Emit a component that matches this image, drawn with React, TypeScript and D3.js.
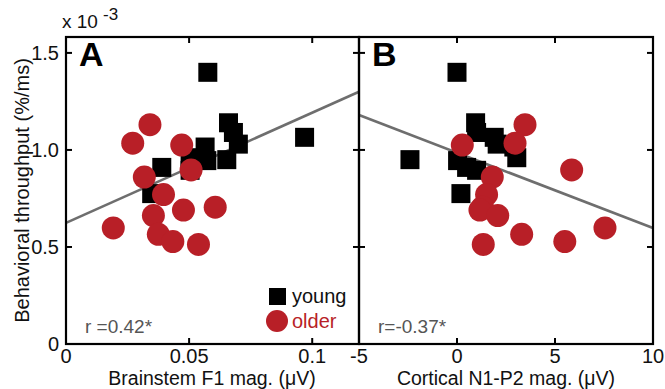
import * as d3 from 'd3'

// behavioral throughput (x 10^-3 %/ms), shared by both panels
const youngThroughput = [1.4, 1.14, 1.09, 1.065, 1.03, 1.015, 0.96, 0.95, 0.945, 0.91, 0.895, 0.775]
const youngF1 = [0.0576, 0.066, 0.068, 0.0969, 0.07, 0.0565, 0.0504, 0.0653, 0.0572, 0.0389, 0.0504, 0.0348]
const youngN1P2 = [0.0, 0.95, 1.0, 1.9, 2.05, 2.9, 3.05, -2.4, 0.03, 0.49, 1.0, 0.2]

const olderThroughput = [1.13, 1.035, 1.025, 0.897, 0.86, 0.77, 0.705, 0.69, 0.662, 0.598, 0.565, 0.528, 0.513]
const olderF1 = [0.0341, 0.0271, 0.047, 0.0508, 0.0318, 0.0396, 0.0606, 0.0477, 0.0355, 0.0192, 0.0375, 0.0434, 0.0538]
const olderN1P2 = [3.47, 2.96, 0.27, 5.85, 1.8, 1.51, 1.3, 1.17, 2.08, 7.55, 3.3, 5.5, 1.34]

// regression line end points [x0, y0, x1, y1]
const fitA = [0, 0.624, 0.119, 1.3]
const fitB = [-5, 1.18, 10, 0.598]

const yTicks = [0, 0.5, 1.0, 1.5]
const yTickLabels = ['0', '0.5', '1.0', '1.5']
const xTicksA = [0, 0.05, 0.1]
const xTickLabelsA = ['0', '0.05', '0.1']
const xTicksB = [-5, 0, 5, 10]
const xTickLabelsB = ['-5', '0', '5', '10']

const red = '#b81f27'
const gray = '#6e6e6e'
const font = '"Liberation Sans", Arial, Helvetica, sans-serif'

const top = 37
const bottom = 344
const y = d3.scaleLinear().domain([0, 1.582]).range([bottom, top])

interface PanelProps {
  x: d3.ScaleLinear<number, number>
  letter: string
  fit: number[]
  youngX: number[]
  olderX: number[]
  ticks: number[]
  tickLabels: string[]
  rText: string
  showYLabels: boolean
}

function Panel({ x, letter, fit, youngX, olderX, ticks, tickLabels, rText, showYLabels }: PanelProps) {
  const [x0, x1] = x.range()
  const sq = 19
  const tl = 6
  return (
    <g>
      <line
        x1={x(fit[0])}
        y1={y(fit[1])}
        x2={x(fit[2])}
        y2={y(fit[3])}
        stroke={gray}
        strokeWidth={2.6}
      />
      {youngX.map((v, i) => (
        <rect
          key={`y${i}`}
          x={x(v) - sq / 2}
          y={y(youngThroughput[i]) - sq / 2}
          width={sq}
          height={sq}
          fill="#000"
        />
      ))}
      {olderX.map((v, i) => (
        <circle key={`o${i}`} cx={x(v)} cy={y(olderThroughput[i])} r={11.5} fill={red} />
      ))}

      {ticks.map((t, i) => (
        <g key={`xt${i}`}>
          <line x1={x(t)} x2={x(t)} y1={bottom} y2={bottom - tl} stroke="#000" strokeWidth={2} />
          <line x1={x(t)} x2={x(t)} y1={top} y2={top + tl} stroke="#000" strokeWidth={2} />
          <text x={x(t)} y={363} textAnchor="middle" fontSize={20} fontFamily={font} fill="#111">
            {tickLabels[i]}
          </text>
        </g>
      ))}
      {yTicks.map((t, i) => (
        <g key={`yt${i}`}>
          <line x1={x0} x2={x0 + tl} y1={y(t)} y2={y(t)} stroke="#000" strokeWidth={2} />
          <line x1={x1} x2={x1 - tl} y1={y(t)} y2={y(t)} stroke="#000" strokeWidth={2} />
          {showYLabels && (
            <text x={x0 - 7} y={y(t) + 7} textAnchor="end" fontSize={20} fontFamily={font} fill="#111">
              {yTickLabels[i]}
            </text>
          )}
        </g>
      ))}
      <rect x={x0} y={top} width={x1 - x0} height={bottom - top} fill="none" stroke="#000" strokeWidth={2.2} />

      <text x={x0 + 13} y={top + 29} fontSize={34} fontWeight="bold" fontFamily={font} fill="#000">
        {letter}
      </text>
      <text x={x0 + 19} y={333} fontSize={19} fontFamily={font} fill="#555">
        {rText}
      </text>
    </g>
  )
}

export default function App() {
  const xA = d3.scaleLinear().domain([0, 0.119]).range([66, 359])
  const xB = d3.scaleLinear().domain([-5, 10]).range([359, 653])
  const midY = (top + bottom) / 2

  return (
    <svg
      width={665}
      height={389}
      style={{ position: 'absolute', left: 0, top: 0, background: '#fff' }}
      fontFamily={font}
    >
      <rect width={665} height={389} fill="#fff" />
      <Panel
        x={xA}
        letter="A"
        fit={fitA}
        youngX={youngF1}
        olderX={olderF1}
        ticks={xTicksA}
        tickLabels={xTickLabelsA}
        rText="r =0.42*"
        showYLabels
      />
      <Panel
        x={xB}
        letter="B"
        fit={fitB}
        youngX={youngN1P2}
        olderX={olderN1P2}
        ticks={xTicksB}
        tickLabels={xTickLabelsB}
        rText="r=-0.37*"
        showYLabels={false}
      />

      <text x={62} y={28} fontSize={19} fill="#111">
        x 10
      </text>
      <text x={103} y={20} fontSize={17} fill="#111">
        -3
      </text>

      <text
        transform={`translate(29, ${midY}) rotate(-90)`}
        textAnchor="middle"
        fontSize={20}
        fill="#111"
      >
        Behavioral throughput (%/ms)
      </text>
      <text x={212} y={385} textAnchor="middle" fontSize={19.5} fill="#111">
        Brainstem F1 mag. (μV)
      </text>
      <text x={506} y={385} textAnchor="middle" fontSize={19.5} fill="#111">
        Cortical N1-P2 mag. (μV)
      </text>

      <rect x={269} y={288} width={17} height={17} fill="#000" />
      <text x={292} y={303} fontSize={20} fill="#111">
        young
      </text>
      <circle cx={277} cy={321} r={11} fill={red} />
      <text x={292} y={328} fontSize={20} fill={red}>
        older
      </text>
    </svg>
  )
}
